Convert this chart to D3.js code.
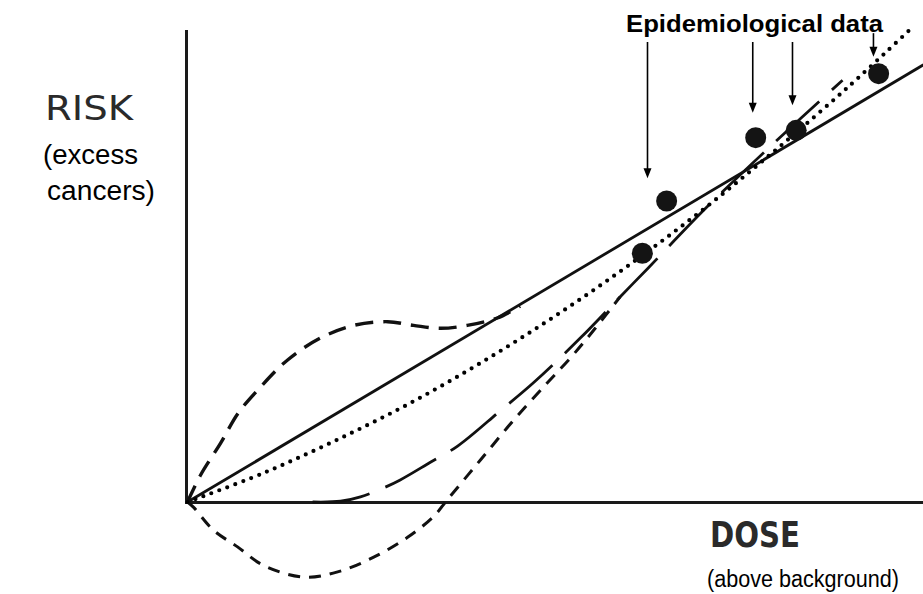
<!DOCTYPE html>
<html>
<head>
<meta charset="utf-8">
<script src="https://cdn.jsdelivr.net/npm/d3@7"></script>
<style>
  html, body { margin: 0; padding: 0; background: #fff; }
  svg { display: block; }
</style>
</head>
<body>
<svg id="chart" width="923" height="594"></svg>
<script>
// ---- Data (dose, risk) in arbitrary units ----
const linearModel = [[0, 0], [10, 5.94]];
const linearQuadratic = [[0,0],[1,0.38],[2,0.83],[3,1.33],[4,1.90],[5,2.53],[6,3.22],[7,3.97],[8,4.79],[9,5.66],[9.85,6.45]];
const supralinear = [[0,0],[0.18,0.37],[0.45,0.80],[0.69,1.21],[0.99,1.56],[1.36,1.93],[1.81,2.23],[2.26,2.40],[2.72,2.45],[3.07,2.40],[3.44,2.36],[3.80,2.40],[4.21,2.50],[4.52,2.66]];
const hormesis = [[0,0],[0.08,-0.07],[0.35,-0.38],[0.68,-0.61],[1.03,-0.86],[1.58,-1.02],[2.04,-0.95],[2.53,-0.75],[2.99,-0.48],[3.34,-0.20],[3.53,0.03],[3.98,0.57],[4.43,1.11],[4.89,1.62],[5.24,2.00],[5.54,2.36],[5.88,2.79]];
const threshold = [[1.70,0],[2.08,0.01],[2.35,0.07],[2.66,0.19],[2.89,0.30],[3.30,0.54],[3.67,0.76],[4.25,1.24],[4.70,1.62],[5.34,2.23],[5.88,2.79],[6.26,3.18],[7.04,3.99],[7.95,4.86],[8.90,5.73]];
const epiDose = [6.18, 6.51, 7.72, 8.27, 9.39];
const epiRisk = [3.38, 4.09, 4.95, 5.05, 5.82];
// annotation arrows: dose position, start risk, tip risk
const arrowDose  = [6.25, 7.68, 8.22, 9.32];
const arrowStart = [6.25, 6.25, 6.25, 6.37];
const arrowTip   = [4.40, 5.29, 5.39, 6.05];

const svg = d3.select('#chart');
const x = d3.scaleLinear().domain([0, 10]).range([187.5, 923.5]);
const y = d3.scaleLinear().domain([0, 10]).range([502, -234]);

const line = d3.line().x(d => x(d[0])).y(d => y(d[1]));
const curve = d3.line().x(d => x(d[0])).y(d => y(d[1])).curve(d3.curveCatmullRom.alpha(0.5));

// axes
svg.append('line').attr('x1', x(0) - 1).attr('x2', x(0) - 1).attr('y1', 30).attr('y2', y(0) + 1.5)
  .attr('stroke', '#1a1a1a').attr('stroke-width', 3);
svg.append('line').attr('x1', x(0) - 2.5).attr('x2', 923).attr('y1', y(0) + 0.5).attr('y2', y(0) + 0.5)
  .attr('stroke', '#1a1a1a').attr('stroke-width', 3);

// curves
svg.append('path').datum(supralinear).attr('d', curve)
  .attr('fill', 'none').attr('stroke', '#111').attr('stroke-width', 3.4)
  .attr('stroke-dasharray', '18,10');
svg.append('path').datum(hormesis).attr('d', curve)
  .attr('fill', 'none').attr('stroke', '#111').attr('stroke-width', 3)
  .attr('stroke-dasharray', '12,9');
svg.append('path').datum(threshold).attr('d', curve)
  .attr('fill', 'none').attr('stroke', '#111').attr('stroke-width', 2.8)
  .attr('stroke-dasharray', '58,17');
svg.append('path').datum(linearModel).attr('d', line)
  .attr('fill', 'none').attr('stroke', '#111').attr('stroke-width', 2.8);
svg.append('path').datum(linearQuadratic).attr('d', curve)
  .attr('fill', 'none').attr('stroke', '#000').attr('stroke-width', 4.2)
  .attr('stroke-linecap', 'round').attr('stroke-dasharray', '0,8.5');

// data points
svg.selectAll('circle.epi').data(epiDose).enter().append('circle')
  .attr('class', 'epi')
  .attr('cx', d => x(d)).attr('cy', (d, i) => y(epiRisk[i])).attr('r', 10.5)
  .attr('fill', '#141414');

// arrows
const arr = svg.append('g');
arrowDose.forEach((d, i) => {
  const ax = x(d), y0 = y(arrowStart[i]), y1 = y(arrowTip[i]);
  arr.append('line').attr('x1', ax).attr('x2', ax).attr('y1', y0).attr('y2', y1 - 8)
    .attr('stroke', '#000').attr('stroke-width', 1.6);
  arr.append('path').attr('d', `M${ax - 4},${y1 - 10} L${ax + 4},${y1 - 10} L${ax},${y1} Z`)
    .attr('fill', '#000');
});

// labels
svg.append('text').attr('x', 626).attr('y', 32).text('Epidemiological data')
  .attr('font-family', 'Liberation Sans, Arial, sans-serif').attr('font-weight', 'bold')
  .attr('font-size', 24).attr('textLength', 257).attr('lengthAdjust', 'spacingAndGlyphs').attr('fill', '#000');
svg.append('text').attr('x', 45).attr('y', 120).text('RISK')
  .attr('font-family', 'DejaVu Sans, sans-serif').attr('font-size', 34)
  .attr('textLength', 88).attr('lengthAdjust', 'spacingAndGlyphs').attr('fill', '#2a2a2a');
svg.append('text').attr('x', 43).attr('y', 164).text('(excess')
  .attr('font-family', 'Liberation Sans, Arial, sans-serif').attr('font-size', 27)
  .attr('textLength', 95).attr('lengthAdjust', 'spacingAndGlyphs').attr('fill', '#000');
svg.append('text').attr('x', 47).attr('y', 200).text('cancers)')
  .attr('font-family', 'Liberation Sans, Arial, sans-serif').attr('font-size', 27)
  .attr('textLength', 108).attr('lengthAdjust', 'spacingAndGlyphs').attr('fill', '#000');
svg.append('text').attr('x', 710).attr('y', 547).text('DOSE')
  .attr('font-family', 'DejaVu Sans Condensed, DejaVu Sans, sans-serif').attr('font-weight', 'bold')
  .attr('font-size', 36).attr('textLength', 90).attr('lengthAdjust', 'spacingAndGlyphs').attr('fill', '#2a2a2a');
svg.append('text').attr('x', 899).attr('y', 587).attr('text-anchor', 'end').text('(above background)')
  .attr('font-family', 'Liberation Sans, Arial, sans-serif').attr('font-size', 23)
  .attr('textLength', 192).attr('lengthAdjust', 'spacingAndGlyphs').attr('fill', '#000');
</script>
</body>
</html>
